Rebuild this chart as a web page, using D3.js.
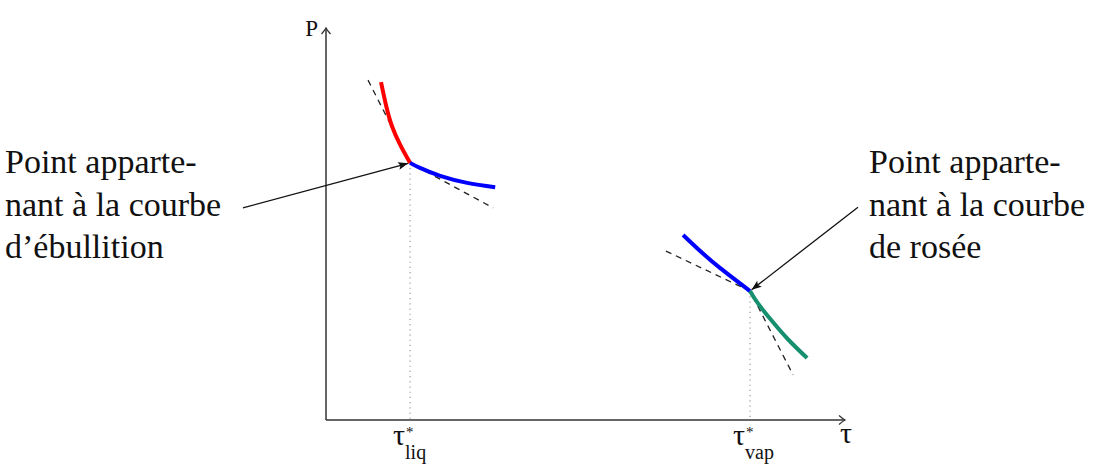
<!DOCTYPE html>
<html>
<head>
<meta charset="utf-8">
<script src="https://cdn.jsdelivr.net/npm/d3@7"></script>
<style>
  body { margin: 0; background: #fff; }
  text { font-family: 'Liberation Serif', 'DejaVu Serif', serif; fill: #111; }
</style>
</head>
<body>
<div id="chart"></div>
<script>
const WIDTH = 1098
const HEIGHT = 475

// curves, in (tau, P) units
const redLiq = [[1.06, 8.62], [1.16, 8.01], [1.27, 7.50], [1.43, 7.02], [1.62, 6.56]]
const blueLiq = [[1.62, 6.56], [1.81, 6.43], [2.20, 6.23], [2.72, 6.05], [3.26, 5.94]]
const blueVap = [[6.88, 4.72], [7.21, 4.31], [7.59, 3.88], [8.17, 3.29]]
const greenVap = [[8.17, 3.29], [8.32, 2.98], [8.59, 2.53], [8.90, 2.06], [9.27, 1.58]]
const tangentLiq = [[0.81, 8.67], [1.62, 6.56], [3.22, 5.41]]
const tangentVap = [[6.55, 4.31], [8.17, 3.29], [9.00, 1.15]]
const points = [
  { sub: 'liq', tau: 1.62, p: 6.56, from: [-1.60, 5.41] },
  { sub: 'vap', tau: 8.17, p: 3.29, from: [10.25, 5.43] }
]
const leftLabel = ['Point apparte-', 'nant à la courbe', 'd’ébullition']
const rightLabel = ['Point apparte-', 'nant à la courbe', 'de rosée']

const x = d3.scaleLinear().domain([0, 10]).range([326, 845])
const y = d3.scaleLinear().domain([0, 10]).range([420, 28])

const svg = d3.select('#chart')
  .append('svg')
  .attr('width', WIDTH)
  .attr('height', HEIGHT)

const defs = svg.append('defs')
defs.append('marker')
  .attr('id', 'axisHead')
  .attr('viewBox', '-8 -6 10 12')
  .attr('markerWidth', 10)
  .attr('markerHeight', 12)
  .attr('markerUnits', 'userSpaceOnUse')
  .attr('orient', 'auto')
  .append('path')
  .attr('d', 'M-6,-4.5 Q-2,-1 0,0 Q-2,1 -6,4.5')
  .attr('fill', 'none')
  .attr('stroke', '#333')
  .attr('stroke-width', 1.3)
defs.append('marker')
  .attr('id', 'noteHead')
  .attr('viewBox', '-11 -5 12 10')
  .attr('markerWidth', 12)
  .attr('markerHeight', 10)
  .attr('markerUnits', 'userSpaceOnUse')
  .attr('orient', 'auto')
  .append('path')
  .attr('d', 'M-10,-3.8 L0,0 L-10,3.8 L-8,0 Z')
  .attr('fill', '#111')

// axes
svg.append('line')
  .attr('x1', x(0)).attr('y1', y(0))
  .attr('x2', x(10)).attr('y2', y(0))
  .attr('stroke', '#333').attr('stroke-width', 1.5)
  .attr('marker-end', 'url(#axisHead)')
svg.append('line')
  .attr('x1', x(0)).attr('y1', y(0))
  .attr('x2', x(0)).attr('y2', y(10))
  .attr('stroke', '#333').attr('stroke-width', 1.5)
  .attr('marker-end', 'url(#axisHead)')

svg.append('text')
  .attr('x', x(0) - 8)
  .attr('y', y(10) + 8)
  .attr('text-anchor', 'end')
  .attr('font-size', 23)
  .text('P')
svg.append('text')
  .attr('x', x(10) + 1)
  .attr('y', y(0) + 23)
  .attr('text-anchor', 'middle')
  .attr('font-size', 30)
  .text('τ')

// dotted drops and tick labels
points.forEach(pt => {
  const px = x(pt.tau)
  svg.append('line')
    .attr('x1', px).attr('y1', y(pt.p))
    .attr('x2', px).attr('y2', y(0))
    .attr('stroke', '#999').attr('stroke-width', 1.2)
    .attr('stroke-dasharray', '1.2,4')
  svg.append('text')
    .attr('x', px - 5)
    .attr('y', y(0) + 25)
    .attr('text-anchor', 'end')
    .attr('font-size', 30)
    .text('τ')
  svg.append('text')
    .attr('x', px - 4)
    .attr('y', y(0) + 17)
    .attr('font-size', 15)
    .text('*')
  svg.append('text')
    .attr('x', px - 5)
    .attr('y', y(0) + 39)
    .attr('font-size', 20)
    .text(pt.sub)
})

const line = d3.line()
  .x(d => x(d[0]))
  .y(d => y(d[1]))
const curve = d3.line()
  .x(d => x(d[0]))
  .y(d => y(d[1]))
  .curve(d3.curveNatural)

// tangents
;[tangentLiq, tangentVap].forEach(t => {
  svg.append('path')
    .attr('d', line(t))
    .attr('fill', 'none')
    .attr('stroke', '#222')
    .attr('stroke-width', 1.3)
    .attr('stroke-dasharray', '6,5')
})

const series = [
  { data: redLiq, color: '#ff0000' },
  { data: blueLiq, color: '#0000ff' },
  { data: blueVap, color: '#0000ff' },
  { data: greenVap, color: '#168f6f' }
]
svg.selectAll('.curve')
  .data(series)
  .enter()
  .append('path')
  .attr('class', 'curve')
  .attr('d', d => curve(d.data))
  .attr('fill', 'none')
  .attr('stroke', d => d.color)
  .attr('stroke-width', 4)
  .attr('stroke-linecap', 'butt')

// annotation arrows
points.forEach(pt => {
  const x0 = x(pt.from[0])
  const y0 = y(pt.from[1])
  const x1 = x(pt.tau)
  const y1 = y(pt.p)
  const len = Math.hypot(x1 - x0, y1 - y0)
  const k = (len - 2) / len
  svg.append('line')
    .attr('x1', x0).attr('y1', y0)
    .attr('x2', x0 + (x1 - x0) * k).attr('y2', y0 + (y1 - y0) * k)
    .attr('stroke', '#111').attr('stroke-width', 1.3)
    .attr('marker-end', 'url(#noteHead)')
})

function block(lines, left) {
  svg.append('g')
    .selectAll('text')
    .data(lines)
    .enter()
    .append('text')
    .attr('x', left)
    .attr('y', (d, i) => 173 + i * 42.5)
    .attr('font-size', 34)
    .text(d => d)
}
block(leftLabel, 5)
block(rightLabel, 869)
</script>
</body>
</html>
